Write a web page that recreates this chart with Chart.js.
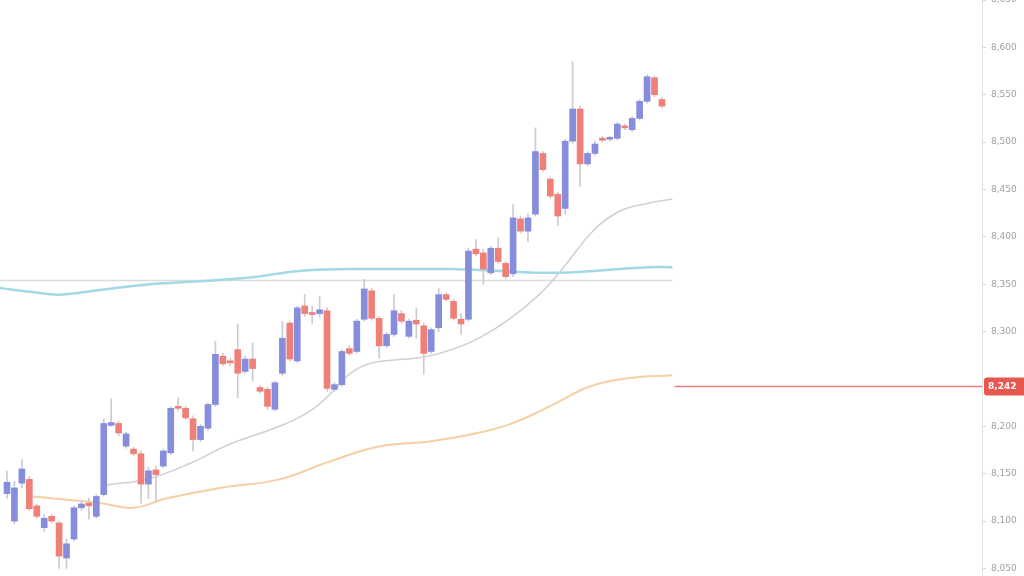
<!DOCTYPE html>
<html>
<head>
<meta charset="utf-8">
<script src="https://cdn.jsdelivr.net/npm/chart.js@4"></script>
<style>
  html, body { margin: 0; background: #fff; }
  #wrap { width: 1024px; height: 576px; }
</style>
</head>
<body>
<div id="wrap"><canvas id="chart"></canvas></div>
<script>
// ---------------- candle data (one entry per candle) ----------------
const opens = [8129,8100,8140,8144,8116,8093,8105,8098,8061,8081,8114,8119,8105,8128,8201,8203,8179,8176,8171,8139,8154,8158,8172,8221,8219,8208,
  8186,8198,8223,8274,8269,8281,8258,8271,8241,8239,8218,8256,8309,8269,8327,8319,8319,8322,8239,8244,8282,8279,8313,8343,8314,8285,
  8297,8319,8295,8312,8306,8279,8304,8339,8332,8313,8313,8387,8383,8362,8388,8372,8361,8419,8406,8424,8488,8461,8445,8430,8501,8535,
  8477,8488,8504,8503,8504,8517,8513,8525,8543,8568,8545];
const closes = [8141,8135,8155,8113,8105,8103,8100,8063,8076,8114,8118,8116,8126,8203,8204,8193,8192,8171,8139,8153,8149,8174,8219,8219,8209,8186,
  8200,8223,8276,8266,8267,8256,8271,8261,8237,8221,8246,8293,8271,8325,8319,8318,8323,8240,8244,8279,8277,8311,8345,8314,8285,8297,
  8322,8311,8311,8308,8277,8302,8339,8334,8314,8308,8385,8382,8366,8388,8374,8358,8420,8406,8420,8490,8471,8443,8422,8501,8535,8477,
  8488,8498,8502,8504,8519,8515,8525,8543,8569,8550,8538];
const highs = [8153,8142,8165,8147,8118,8107,8107,8100,8081,8116,8121,8124,8128,8208,8229,8205,8194,8178,8174,8157,8158,8176,8221,8230,8221,8211,
  8202,8225,8290,8277,8272,8308,8274,8288,8243,8241,8248,8311,8311,8327,8339,8327,8337,8325,8246,8281,8285,8313,8355,8346,8316,8299,
  8339,8322,8313,8325,8309,8304,8346,8341,8334,8319,8388,8397,8387,8390,8399,8374,8434,8422,8424,8515,8490,8463,8447,8503,8585,8538,
  8490,8501,8506,8506,8521,8519,8527,8545,8571,8570,8547];
const lows = [8124,8097,8135,8111,8103,8089,8098,8050,8050,8079,8111,8102,8103,8126,8200,8190,8177,8169,8119,8124,8121,8156,8170,8216,8207,8174,
  8184,8196,8221,8264,8264,8230,8256,8248,8235,8218,8216,8253,8269,8267,8316,8308,8316,8237,8237,8242,8275,8277,8311,8312,8272,8283,
  8295,8309,8293,8293,8255,8277,8300,8332,8312,8297,8311,8380,8350,8360,8372,8356,8358,8404,8395,8422,8469,8441,8412,8424,8499,8453,
  8475,8486,8500,8501,8502,8513,8511,8523,8541,8548,8536];

// ---------------- overlay lines (candle index -> price) ----------------
const grayMaIdx = [13.4,19.2,24.6,29.9,36.6,40.7,43.8,46,49.1,55,58.1,62.6,67.1,71.5,74.6,78.7,82.3,85.9,89.4];
const grayMaVal = [8138,8145,8161,8181,8200,8216,8237,8255,8267,8272,8277,8290,8311,8339,8366,8406,8427,8435,8440];

const orangeMaIdx = [3.5,12.5,16.9,21.5,28.6,36.6,43.4,50.1,56.8,62.1,67.5,72.9,78.3,83.6,89.4];
const orangeMaVal = [8126,8119,8114,8124,8135,8144,8163,8179,8184,8191,8202,8221,8242,8251,8254];

const cyanIdx = [-0.94,3.1,7.1,12.5,19.2,25.9,32.6,39.3,46,52.8,59.5,66.2,71.5,76.9,82.3,86.3,89.4];
const cyanVal = [8346,8342,8339,8344,8350,8353,8357,8364,8366,8366,8366,8364,8362,8363,8366,8368,8368];

const levelPrice = 8354;
const lastPrice = 8242;
// 8,250 sits under the last-price tag, so it is left out
const yTicks = [8050,8100,8150,8200,8300,8350,8400,8450,8500,8550,8600,8650];

const BLUE = '#858ddc';
const RED = '#ef7f77';

const pts = (xs, ys) => xs.map((x, i) => ({ x: x, y: ys[i] }));

const lastLabel = {
  id: 'lastLabel',
  afterDraw(chart) {
    const y = chart.scales.y;
    const py = y.getPixelForValue(lastPrice);
    const c = chart.ctx;
    c.save();
    c.fillStyle = '#e8574f';
    c.beginPath();
    c.roundRect(y.left + 2, py - 9, 42, 18, 3);
    c.fill();
    c.fillStyle = '#fff';
    c.font = 'bold 9px "DejaVu Sans", sans-serif';
    c.textBaseline = 'middle';
    c.fillText(lastPrice.toLocaleString('en-US'), y.left + 6, py + 0.5);
    c.restore();
  }
};

new Chart(document.getElementById('chart'), {
  type: 'bar',
  data: {
    datasets: [
      {
        type: 'line', data: pts(cyanIdx, cyanVal), borderColor: '#a3d9e6', borderWidth: 2.5,
        pointRadius: 0, tension: 0.4, order: 5
      },
      {
        type: 'line', data: [{ x: -0.94, y: levelPrice }, { x: 89.4, y: levelPrice }], borderColor: '#dcdcdc',
        borderWidth: 1.5, pointRadius: 0, order: 5
      },
      {
        type: 'line', data: pts(orangeMaIdx, orangeMaVal), borderColor: '#f5d0a4', borderWidth: 2,
        pointRadius: 0, tension: 0.4, order: 4
      },
      {
        type: 'line', data: pts(grayMaIdx, grayMaVal), borderColor: '#d0d0d0', borderWidth: 1.5,
        pointRadius: 0, tension: 0.4, order: 4
      },
      {
        type: 'line', data: [{ x: 89.7, y: lastPrice }, { x: 131, y: lastPrice }], borderColor: '#e88080',
        borderWidth: 1.5, pointRadius: 0, order: 4
      },
      {
        data: lows.map((l, i) => ({ x: i, y: [l, highs[i]] })),
        backgroundColor: '#cbcbd3', barThickness: 1, grouped: false, order: 3
      },
      {
        data: opens.map((o, i) => ({ x: i, y: [o, closes[i]] })),
        backgroundColor: opens.map((o, i) => closes[i] >= o ? BLUE : RED),
        barThickness: 6, minBarLength: 2, grouped: false, order: 2
      }
    ]
  },
  options: {
    responsive: true,
    maintainAspectRatio: false,
    animation: false,
    layout: { padding: 0 },
    plugins: { legend: { display: false }, tooltip: { enabled: false } },
    scales: {
      x: { type: 'linear', min: -0.94, max: 131, offset: false, display: false },
      y: {
        position: 'right',
        min: 8042,
        max: 8650,
        grid: { drawOnChartArea: false, drawTicks: true, tickLength: 4, color: '#d6d6d6' },
        border: { color: '#e2e2e2' },
        ticks: {
          padding: 5,
          color: '#a0a0a0',
          font: { size: 9, family: 'DejaVu Sans' },
          callback: v => v.toLocaleString('en-US')
        },
        afterBuildTicks: s => { s.ticks = yTicks.map(v => ({ value: v })); },
        afterFit: s => { s.width = 42; s.paddingTop = 0; s.paddingBottom = 0; }
      }
    }
  },
  plugins: [lastLabel]
});
</script>
</body>
</html>
